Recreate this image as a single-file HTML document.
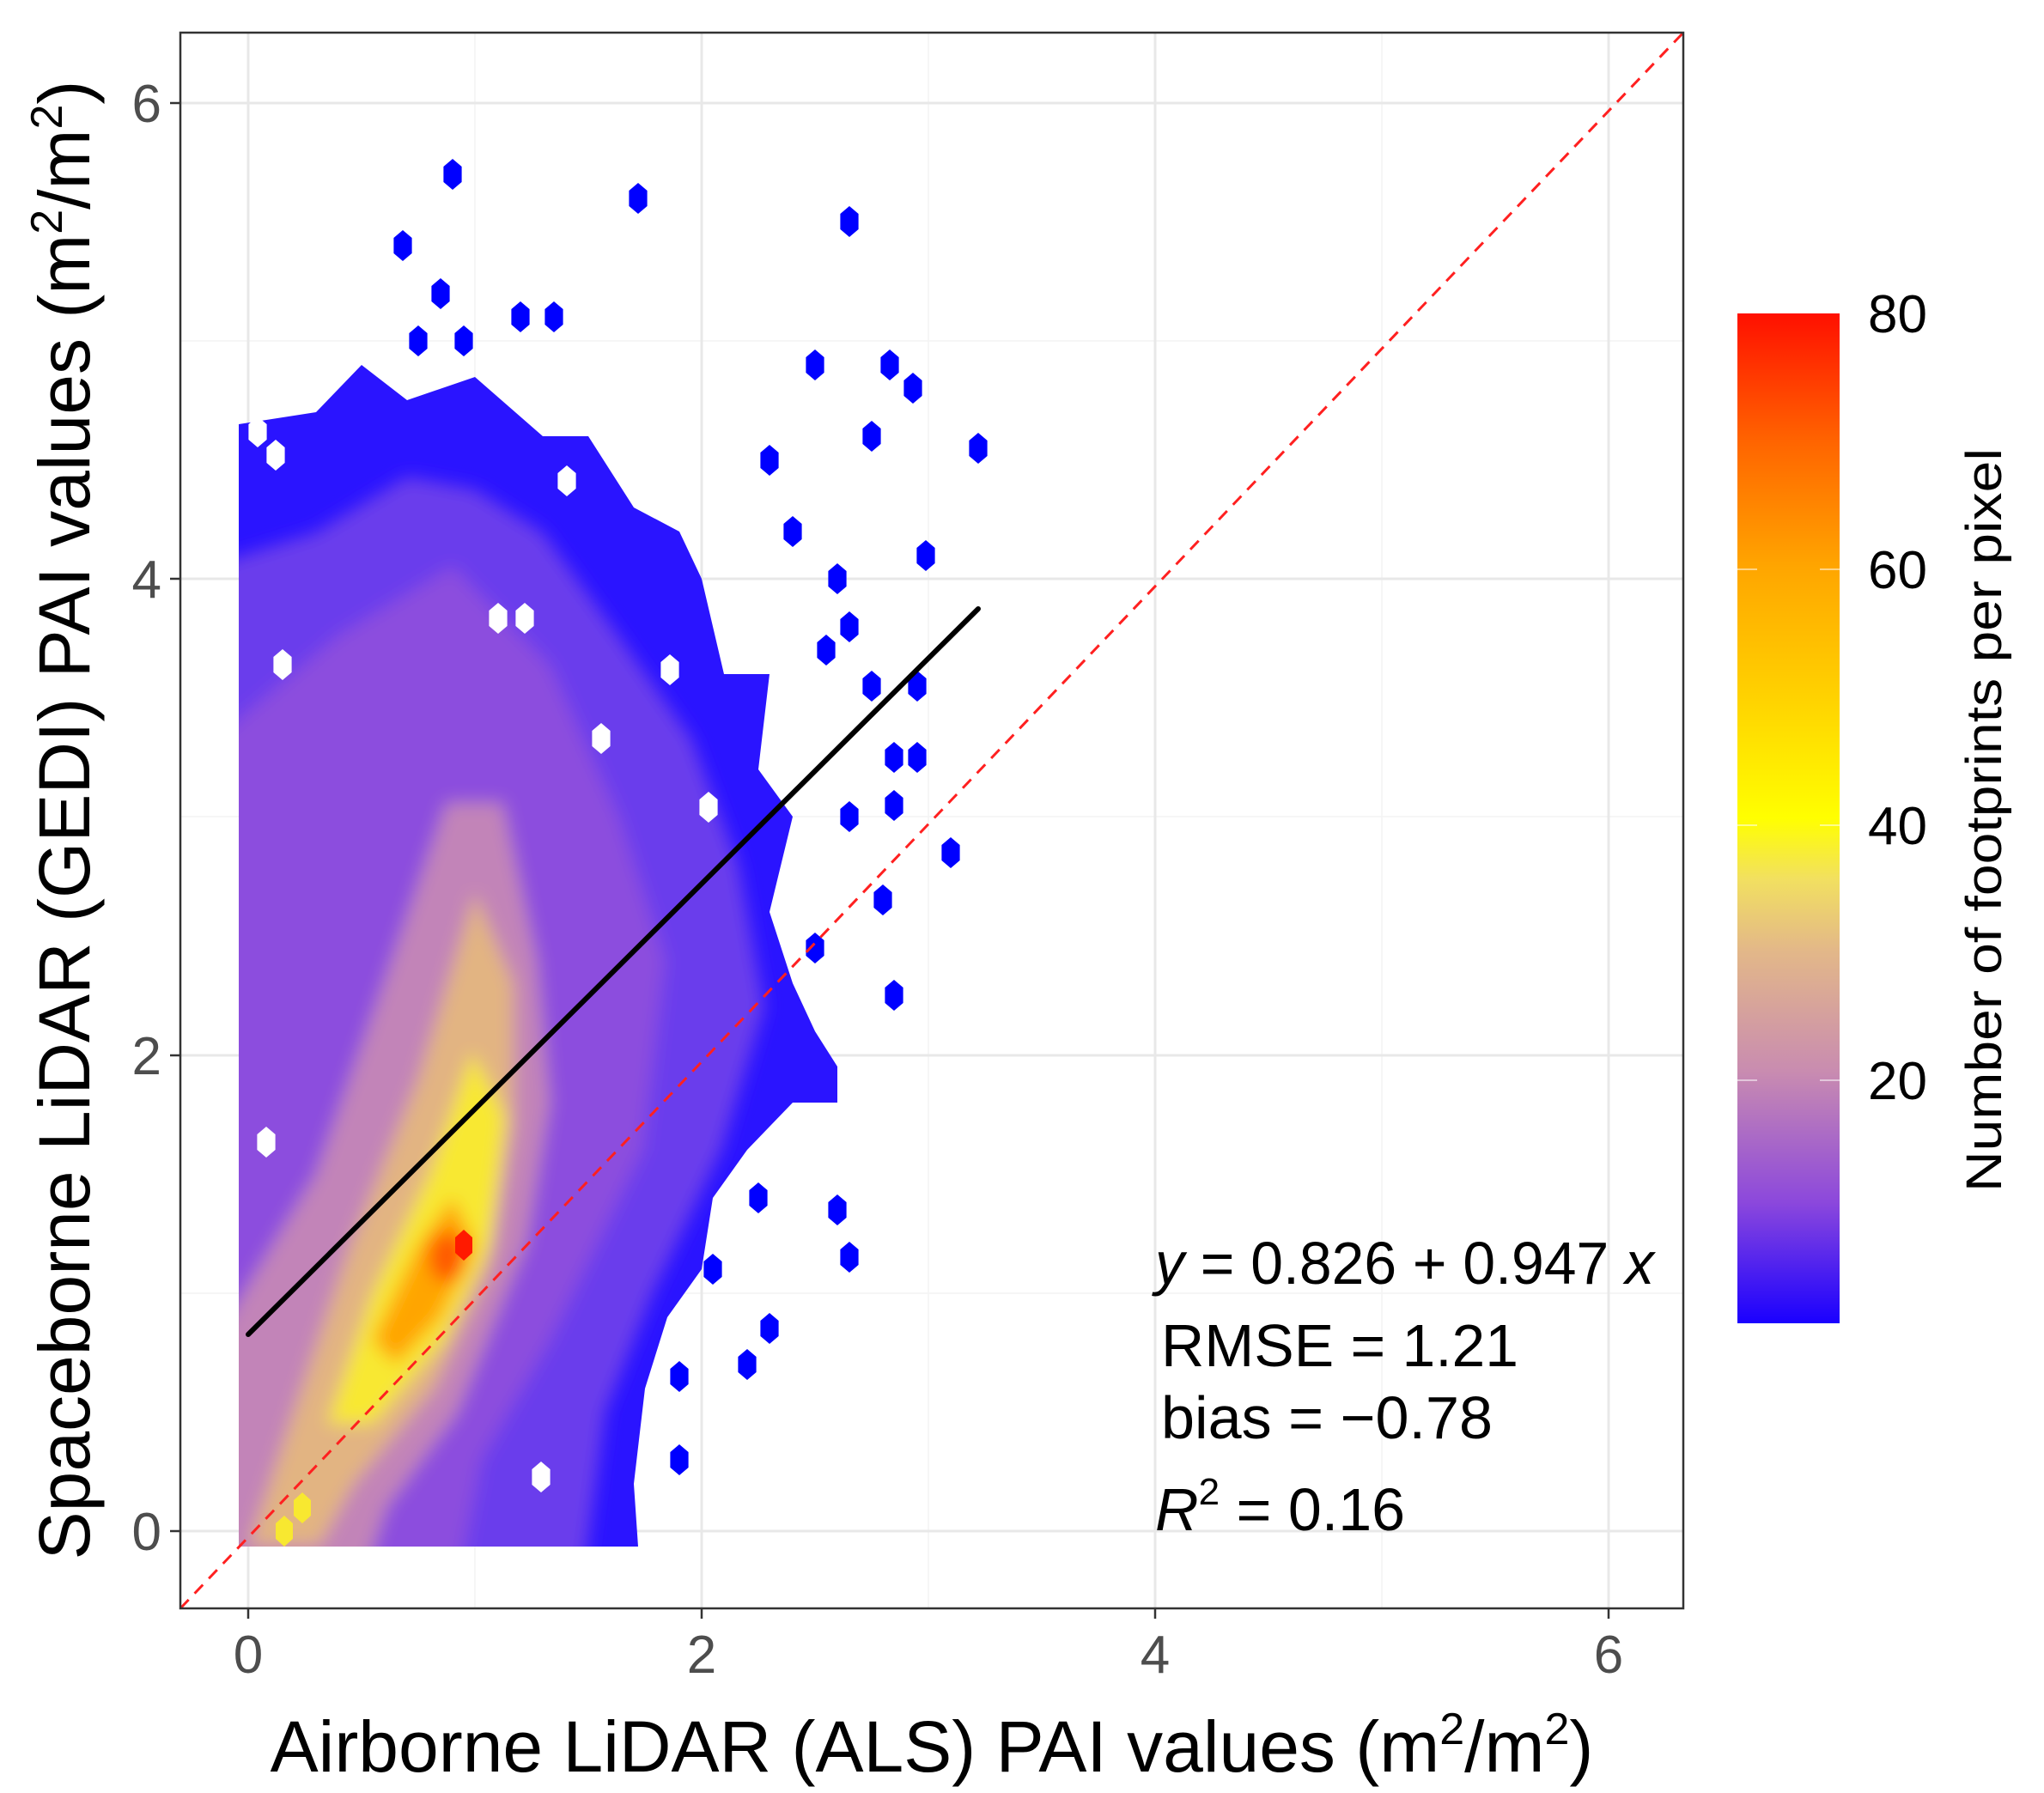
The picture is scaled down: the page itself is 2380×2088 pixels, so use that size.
<!DOCTYPE html>
<html><head><meta charset="utf-8"><style>
html,body{margin:0;padding:0;background:#fff;}
svg{display:block;font-family:"Liberation Sans",Arial,sans-serif;}
</style></head><body>
<svg xmlns="http://www.w3.org/2000/svg" width="2380" height="2088" viewBox="0 0 2380 2088">
<defs>
<linearGradient id="cb" x1="0" y1="1" x2="0" y2="0">
<stop offset="0" stop-color="#1a00ff"/>
<stop offset="0.12" stop-color="#8c48dc"/>
<stop offset="0.25" stop-color="#c98cb0"/>
<stop offset="0.37" stop-color="#e3b888"/>
<stop offset="0.44" stop-color="#f2e060"/>
<stop offset="0.5" stop-color="#ffff00"/>
<stop offset="0.62" stop-color="#ffd200"/>
<stop offset="0.75" stop-color="#ffa500"/>
<stop offset="0.87" stop-color="#ff6600"/>
<stop offset="1" stop-color="#ff1000"/>
</linearGradient>
<clipPath id="pc"><rect x="210" y="38" width="1750" height="1835"/></clipPath>
<clipPath id="dc"><polygon points="278,1801 278,494 368,480 421,425 474,466 553,439 632,508 685,508 738,591 791,619 817,674 843,785 896,785 883,896 923,951 896,1062 923,1145 949,1201 975,1242 975,1284 923,1284 870,1339 830,1395 817,1478 777,1534 751,1617 738,1728 743,1801"/></clipPath>
<polygon id="h" points="0,-18 10.6,-9 10.6,9 0,18 -10.6,9 -10.6,-9" fill="#0000ff"/>
<polygon id="w" points="0,-18 10.6,-9 10.6,9 0,18 -10.6,9 -10.6,-9" fill="#ffffff"/>
<filter id="bl" x="-10%" y="-10%" width="120%" height="120%"><feGaussianBlur stdDeviation="10"/></filter>
</defs>
<rect x="210" y="38" width="1750" height="1835" fill="#fff"/>
<g stroke="#f3f3f3" stroke-width="1.5">
<line x1="553" y1="38" x2="553" y2="1873"/><line x1="1081" y1="38" x2="1081" y2="1873"/><line x1="1609" y1="38" x2="1609" y2="1873"/>
<line x1="210" y1="1506" x2="1960" y2="1506"/><line x1="210" y1="951" x2="1960" y2="951"/><line x1="210" y1="397" x2="1960" y2="397"/>
</g>
<g stroke="#e8e8e8" stroke-width="3">
<line x1="289" y1="38" x2="289" y2="1873"/><line x1="817" y1="38" x2="817" y2="1873"/><line x1="1345" y1="38" x2="1345" y2="1873"/><line x1="1873" y1="38" x2="1873" y2="1873"/>
<line x1="210" y1="1783" x2="1960" y2="1783"/><line x1="210" y1="1229" x2="1960" y2="1229"/><line x1="210" y1="674" x2="1960" y2="674"/><line x1="210" y1="120" x2="1960" y2="120"/>
</g>
<g clip-path="url(#pc)">
<polygon fill="#2a14ff" points="278,1801 278,494 368,480 421,425 474,466 553,439 632,508 685,508 738,591 791,619 817,674 843,785 896,785 883,896 923,951 896,1062 923,1145 949,1201 975,1242 975,1284 923,1284 870,1339 830,1395 817,1478 777,1534 751,1617 738,1728 743,1801"/>
<g clip-path="url(#dc)">
<g filter="url(#bl)">
<polygon fill="#6a3cec" points="240,1830 240,660 368,620 474,555 553,570 632,620 720,740 805,860 860,1007 890,1173 840,1339 760,1506 705,1644 680,1830"/>
<polygon fill="#8c4ede" points="240,1830 240,870 395,740 527,660 640,775 720,951 774,1118 748,1339 640,1561 560,1700 535,1830"/>
<polygon fill="#c284b8" points="240,1830 250,1561 368,1367 447,1145 520,935 585,935 625,1118 640,1284 612,1450 532,1645 450,1755 425,1830"/>
<polygon fill="#e2b482" points="290,1800 342,1644 408,1450 487,1256 553,1040 598,1145 598,1312 570,1478 505,1617 412,1728 372,1800"/>
<polygon fill="#f8e830" points="381,1658 434,1506 500,1367 550,1225 588,1300 570,1450 516,1561 434,1658"/>
<polygon fill="#ffa500" points="434,1561 487,1450 527,1395 553,1450 513,1534 461,1589"/>
<ellipse cx="521" cy="1464" rx="22" ry="30" fill="#ff5a00"/>
</g>
</g>
<polygon fill="#ff1a00" points="540,1432 550,1441 550,1459 540,1468 530,1459 530,1441"/>
<g fill="#f8e830">
<polygon points="352,1738 362,1747 362,1765 352,1774 342,1765 342,1747"/>
<polygon points="331,1765 341,1774 341,1792 331,1801 321,1792 321,1774"/>
</g>
<g>
<use href="#w" x="300" y="503"/><use href="#w" x="321" y="530"/><use href="#w" x="580" y="720"/><use href="#w" x="611" y="720"/>
<use href="#w" x="329" y="774"/><use href="#w" x="780" y="780"/><use href="#w" x="700" y="860"/><use href="#w" x="310" y="1330"/>
<use href="#w" x="660" y="560"/><use href="#w" x="825" y="940"/><use href="#w" x="630" y="1720"/><use href="#w" x="760" y="1650"/>
</g>
<g>
<use href="#h" x="527" y="203"/><use href="#h" x="743" y="231"/><use href="#h" x="989" y="258"/><use href="#h" x="469" y="286"/>
<use href="#h" x="513" y="342"/><use href="#h" x="606" y="369"/><use href="#h" x="645" y="369"/><use href="#h" x="487" y="397"/>
<use href="#h" x="540" y="397"/><use href="#h" x="949" y="425"/><use href="#h" x="1036" y="425"/><use href="#h" x="1063" y="452"/>
<use href="#h" x="1015" y="508"/><use href="#h" x="1139" y="522"/><use href="#h" x="896" y="536"/><use href="#h" x="1078" y="647"/>
<use href="#h" x="923" y="619"/><use href="#h" x="975" y="674"/><use href="#h" x="962" y="757"/><use href="#h" x="989" y="730"/>
<use href="#h" x="1015" y="799"/><use href="#h" x="1068" y="799"/><use href="#h" x="1041" y="882"/><use href="#h" x="1068" y="882"/>
<use href="#h" x="989" y="951"/><use href="#h" x="1041" y="938"/><use href="#h" x="1107" y="993"/><use href="#h" x="1028" y="1048"/>
<use href="#h" x="1041" y="1159"/><use href="#h" x="949" y="1104"/><use href="#h" x="975" y="1409"/><use href="#h" x="989" y="1464"/>
<use href="#h" x="883" y="1395"/><use href="#h" x="870" y="1589"/><use href="#h" x="896" y="1547"/><use href="#h" x="830" y="1478"/>
<use href="#h" x="791" y="1700"/><use href="#h" x="791" y="1603"/>
</g>
<line x1="210" y1="1873" x2="1960" y2="38" stroke="#ff2020" stroke-width="3" stroke-dasharray="14,10"/>
<line x1="289" y1="1554" x2="1139" y2="709" stroke="#000" stroke-width="6" stroke-linecap="round"/>
</g>
<rect x="210" y="38" width="1750" height="1835" fill="none" stroke="#333" stroke-width="2.5"/>
<g stroke="#333" stroke-width="2.5">
<line x1="289" y1="1873" x2="289" y2="1885"/><line x1="817" y1="1873" x2="817" y2="1885"/><line x1="1345" y1="1873" x2="1345" y2="1885"/><line x1="1873" y1="1873" x2="1873" y2="1885"/>
<line x1="198" y1="1783" x2="210" y2="1783"/><line x1="198" y1="1229" x2="210" y2="1229"/><line x1="198" y1="674" x2="210" y2="674"/><line x1="198" y1="120" x2="210" y2="120"/>
</g>
<g font-size="62" fill="#4d4d4d" text-anchor="middle">
<text x="289" y="1948">0</text><text x="817" y="1948">2</text><text x="1345" y="1948">4</text><text x="1873" y="1948">6</text>
</g>
<g font-size="62" fill="#4d4d4d" text-anchor="end">
<text x="188" y="1805">0</text><text x="188" y="1251">2</text><text x="188" y="696">4</text><text x="188" y="142">6</text>
</g>
<g font-size="70" fill="#000">
<text x="1345" y="1495" textLength="581" lengthAdjust="spacingAndGlyphs"><tspan font-style="italic">y</tspan> = 0.826 + 0.947 <tspan font-style="italic">x</tspan></text>
<text x="1352" y="1591" textLength="416" lengthAdjust="spacingAndGlyphs">RMSE = 1.21</text>
<text x="1352" y="1675" textLength="386" lengthAdjust="spacingAndGlyphs">bias = −0.78</text>
<text x="1345" y="1782"><tspan font-style="italic">R</tspan><tspan font-size="44" dy="-30">2</tspan><tspan dy="30"> = 0.16</tspan></text>
</g>
<text x="1085" y="2063" font-size="84" text-anchor="middle" fill="#000">Airborne LiDAR (ALS) PAI values (m<tspan font-size="52" dy="-32">2</tspan><tspan dy="32">/m</tspan><tspan font-size="52" dy="-32">2</tspan><tspan dy="32">)</tspan></text>
<text transform="translate(76,955) rotate(-90)" x="0" y="28" font-size="84" text-anchor="middle" fill="#000">Spaceborne LiDAR (GEDI) PAI values (m<tspan font-size="52" dy="-32">2</tspan><tspan dy="32">/m</tspan><tspan font-size="52" dy="-32">2</tspan><tspan dy="32">)</tspan></text>
<rect x="2023" y="365" width="119" height="1176" fill="url(#cb)"/>
<g stroke="#fff" stroke-width="1.5" opacity="0.7">
<line x1="2023" y1="663" x2="2046" y2="663"/><line x1="2119" y1="663" x2="2142" y2="663"/>
<line x1="2023" y1="961" x2="2046" y2="961"/><line x1="2119" y1="961" x2="2142" y2="961"/>
<line x1="2023" y1="1258" x2="2046" y2="1258"/><line x1="2119" y1="1258" x2="2142" y2="1258"/>
</g>
<g font-size="62" fill="#000">
<text x="2175" y="387">80</text><text x="2175" y="685">60</text><text x="2175" y="983">40</text><text x="2175" y="1280">20</text>
</g>
<text transform="translate(2330,955) rotate(-90)" x="0" y="0" font-size="58" text-anchor="middle" fill="#000" textLength="866" lengthAdjust="spacingAndGlyphs">Number of footprints per pixel</text>
</svg>
</body></html>
